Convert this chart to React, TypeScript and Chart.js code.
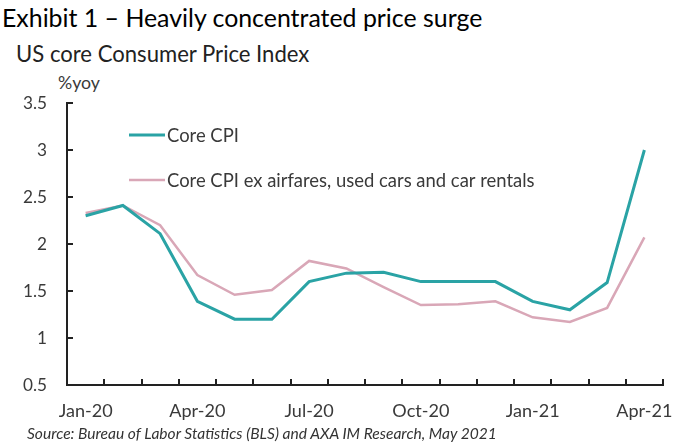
import React, { useEffect, useRef } from "react";
import { Chart, registerables } from "chart.js";

Chart.register(...registerables);

// Monthly categories, Jan-20 .. Apr-21
const months = [
  "Jan-20", "Feb-20", "Mar-20", "Apr-20", "May-20", "Jun-20", "Jul-20", "Aug-20",
  "Sep-20", "Oct-20", "Nov-20", "Dec-20", "Jan-21", "Feb-21", "Mar-21", "Apr-21",
];

// Year-on-year change, %
const coreCpi = [2.3, 2.41, 2.11, 1.39, 1.2, 1.2, 1.6, 1.69, 1.7, 1.6, 1.6, 1.6, 1.39, 1.3, 1.59, 3.0];
const coreCpiEx = [2.33, 2.41, 2.2, 1.67, 1.46, 1.51, 1.82, 1.74, 1.54, 1.35, 1.36, 1.39, 1.22, 1.17, 1.32, 2.07];

const seriesLabels = ["Core CPI", "Core CPI ex airfares, used cars and car rentals"];
const yTicks = [0.5, 1, 1.5, 2, 2.5, 3, 3.5];

const TITLE = "Exhibit 1 – Heavily concentrated price surge";
const SUBTITLE = "US core Consumer Price Index";
const UNIT = "%yoy";
const SOURCE = "Source: Bureau of Labor Statistics (BLS) and AXA IM Research, May 2021";

const FAMILY = "Lato";
const FONT = "Lato, 'Open Sans', sans-serif";
const AXIS = "#222";
const TEXT = "#3a3a3a";

// Font size that makes a string span a given width, plus its ascent at that size
const measurer = document.createElement("canvas").getContext("2d") as CanvasRenderingContext2D;
function fitText(text: string, width: number, weight = "400", style = "normal") {
  measurer.font = `${style} ${weight} 100px ${FAMILY}`;
  const m = measurer.measureText(text);
  const size = (100 * width) / m.width;
  const ascent = ((m.fontBoundingBoxAscent || 99) * size) / 100;
  const descent = ((m.fontBoundingBoxDescent || 21) * size) / 100;
  return { size, ascent, descent };
}

const xTickSize = fitText("Jan-20", 54).size;
const yTickSize = fitText("3.5", 24).size;
const legendSize = fitText(seriesLabels[1], 368).size;

// Inward-pointing tick marks on both axes
const innerTicks = {
  id: "innerTicks",
  afterDraw(chart: any) {
    const { ctx, scales } = chart;
    const x = scales.x;
    const y = scales.y;
    ctx.save();
    ctx.strokeStyle = AXIS;
    ctx.lineWidth = 2;
    ctx.beginPath();
    yTicks.forEach((v) => {
      const py = Math.round(y.getPixelForValue(v));
      ctx.moveTo(x.left, py);
      ctx.lineTo(x.left + 6, py);
    });
    const half = (x.getPixelForValue(1) - x.getPixelForValue(0)) / 2;
    for (let i = 0; i <= months.length; i++) {
      const px = Math.round(x.getPixelForValue(i) - half);
      ctx.moveTo(px, y.bottom);
      ctx.lineTo(px, y.bottom - 6);
    }
    ctx.stroke();
    ctx.restore();
  },
};

// Legend rows drawn inside the plot area
const innerLegend = {
  id: "innerLegend",
  afterDraw(chart: any) {
    const { ctx, chartArea } = chart;
    ctx.save();
    ctx.font = `${legendSize}px ${FONT}`;
    ctx.textBaseline = "middle";
    chart.data.datasets.forEach((ds: any, i: number) => {
      const yy = chartArea.top + 32 + i * 45;
      const x0 = chartArea.left + 62;
      ctx.strokeStyle = ds.borderColor;
      ctx.lineWidth = ds.borderWidth;
      ctx.beginPath();
      ctx.moveTo(x0, yy);
      ctx.lineTo(x0 + 36, yy);
      ctx.stroke();
      ctx.fillStyle = TEXT;
      ctx.fillText(ds.label, x0 + 38, yy + 1);
    });
    ctx.restore();
  },
};

function Label(props: {
  text: string; left: number; baseline: number; width: number;
  weight?: string; italic?: boolean; color: string;
}) {
  const { text, left, baseline, width, weight = "400", italic = false, color } = props;
  const f = fitText(text, width, weight, italic ? "italic" : "normal");
  return (
    <div
      style={{
        position: "absolute",
        left,
        top: baseline - f.ascent,
        fontSize: f.size,
        lineHeight: `${f.ascent + f.descent}px`,
        fontWeight: weight as any,
        fontStyle: italic ? "italic" : "normal",
        color,
        whiteSpace: "nowrap",
      }}
    >
      {text}
    </div>
  );
}

export default function App() {
  const ref = useRef<HTMLCanvasElement>(null);

  useEffect(() => {
    if (!ref.current) return;
    const chart = new Chart(ref.current, {
      type: "line",
      data: {
        labels: months,
        datasets: [
          {
            label: seriesLabels[0],
            data: coreCpi,
            borderColor: "#2aa3a5",
            borderWidth: 3,
            pointRadius: 0,
            tension: 0,
          },
          {
            label: seriesLabels[1],
            data: coreCpiEx,
            borderColor: "#d9a7b7",
            borderWidth: 2.5,
            pointRadius: 0,
            tension: 0,
          },
        ],
      },
      options: {
        animation: false,
        responsive: false,
        maintainAspectRatio: false,
        layout: { padding: { top: 103, right: 10, bottom: 13, left: 0 } },
        plugins: {
          legend: { display: false },
          title: { display: false },
          tooltip: { enabled: false },
        },
        scales: {
          x: {
            offset: true,
            grid: { display: false, drawTicks: false },
            border: { display: true, color: AXIS, width: 2 },
            afterFit: (s: any) => {
              s.height = 45;
              s.paddingLeft = 0;
              s.paddingRight = 0;
            },
            ticks: {
              autoSkip: false,
              maxRotation: 0,
              padding: 15,
              color: TEXT,
              font: { family: FONT, size: xTickSize },
              callback: (_v: any, i: number) => (i % 3 === 0 ? months[i] : ""),
            },
          },
          y: {
            min: 0.5,
            max: 3.5,
            grid: { display: false, drawTicks: false },
            border: { display: true, color: AXIS, width: 2 },
            afterFit: (s: any) => {
              s.width = 67;
              s.paddingTop = 0;
              s.paddingBottom = 0;
            },
            afterBuildTicks: (s: any) => {
              s.ticks = yTicks.map((v) => ({ value: v }));
            },
            ticks: {
              padding: 20,
              color: TEXT,
              font: { family: FONT, size: yTickSize },
              callback: (v: any) => String(v),
            },
          },
        },
      },
      plugins: [innerTicks, innerLegend],
    });
    return () => chart.destroy();
  }, []);

  return (
    <div style={{ position: "absolute", left: 0, top: 0, width: 673, height: 443, background: "#fff", fontFamily: FONT }}>
      <Label text={TITLE} left={2} baseline={28} width={481} color="#000" />
      <Label text={SUBTITLE} left={16} baseline={63} width={294} color="#222" />
      <Label text={UNIT} left={58} baseline={90} width={42} color={TEXT} />
      <canvas ref={ref} width={673} height={443} style={{ position: "absolute", left: 0, top: 0 }} />
      <Label text={SOURCE} left={27} baseline={439} width={472} italic color="#333" />
    </div>
  );
}
